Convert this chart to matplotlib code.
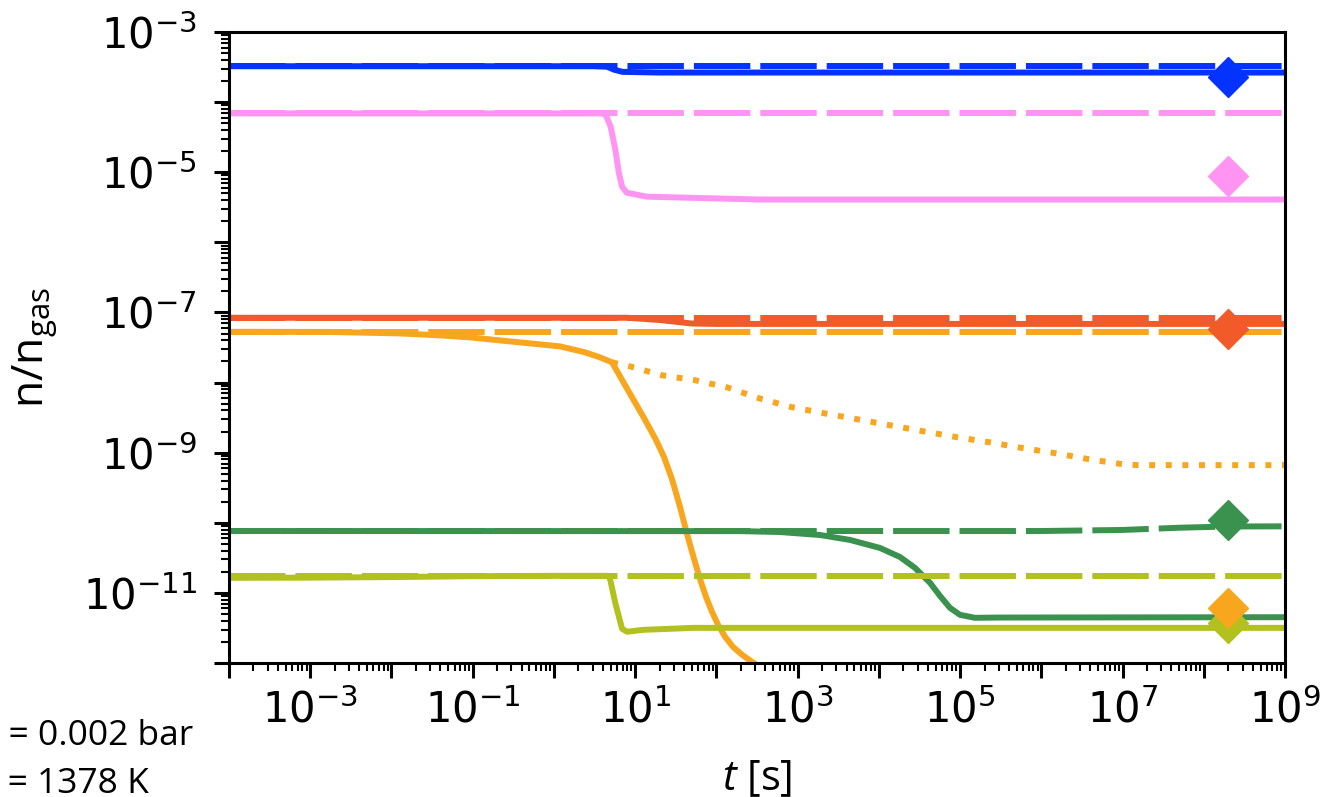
import math
import matplotlib
matplotlib.use("Agg")
import matplotlib.pyplot as plt
from matplotlib.ticker import LogLocator, FuncFormatter, NullFormatter

plt.rcParams["font.family"] = ["Open Sans", "DejaVu Sans"]
plt.rcParams["mathtext.fontset"] = "custom"
plt.rcParams["mathtext.rm"] = "DejaVu Sans"
plt.rcParams["mathtext.sf"] = "DejaVu Sans"
plt.rcParams["mathtext.bf"] = "DejaVu Sans:bold"
plt.rcParams["mathtext.it"] = "Open Sans:italic"

# ---- data: time [s] and abundance n/n_gas ----
t_span = [1e-4, 1e9]

blue_dashed = [3.25e-4, 3.25e-4]
t_blue = [1e-4, 3.0, 4.5, 5.5, 7.0, 20, 1e9]
blue_solid = [3.25e-4, 3.25e-4, 3.2e-4, 2.9e-4, 2.7e-4, 2.64e-4, 2.64e-4]

pink_dashed = [6.9e-5, 6.9e-5]
t_pink = [1e-4, 4.0, 4.4, 5.0, 5.7, 6.3, 6.9, 7.9, 13.9, 340, 1e9]
pink_solid = [6.9e-5, 6.9e-5, 6.37e-5, 4.44e-5, 2.09e-5, 9.8e-6, 6.22e-6,
              5.1e-6, 4.48e-6, 4.08e-6, 4.08e-6]

red_dashed = [8.4e-8, 8.4e-8]
t_red = [1e-4, 8, 20, 50, 100, 1e9]
red_solid = [8.4e-8, 8.4e-8, 7.8e-8, 6.95e-8, 6.86e-8, 6.86e-8]

orange_dashed = [5.3e-8, 5.3e-8]
t_orange = [1e-4, 1.75e-3, 0.0127, 0.0396, 0.0927, 0.217, 0.508, 1.19, 2.41,
            3.69, 5.19, 8.17, 12.9, 18.1, 22.7, 28.4, 35.7, 43.5, 53.1, 62.8,
            74.5, 88.3, 105, 128, 160, 207, 274, 397]
orange_solid = [5.3e-8, 5.27e-8, 5.02e-8, 4.71e-8, 4.41e-8, 3.99e-8, 3.62e-8,
                3.28e-8, 2.70e-8, 2.29e-8, 1.94e-8, 7.76e-9, 3.10e-9,
                1.51e-9, 8.63e-10, 4.20e-10, 1.68e-10, 6.92e-11, 3.05e-11,
                1.58e-11, 8.77e-12, 5.36e-12, 3.50e-12, 2.36e-12, 1.70e-12,
                1.31e-12, 1.04e-12, 7.76e-13]
t_orange_dot = [5.19, 8.65, 21.4, 54.6, 135, 335, 853, 2.11e3, 5.38e3,
                1.37e4, 3.5e4, 9.16e4, 2.27e5, 5.96e5, 1.48e6, 3.86e6,
                9.84e6, 1.55e7, 1e9]
orange_dotted = [1.94e-8, 1.70e-8, 1.27e-8, 1.08e-8, 8.55e-9, 5.97e-9,
                 4.45e-9, 3.65e-9, 3.0e-9, 2.46e-9, 2.02e-9, 1.66e-9,
                 1.41e-9, 1.16e-9, 9.84e-10, 8.07e-10, 6.86e-10, 6.64e-10,
                 6.64e-10]

t_green_d = [1e-4, 1e6, 1e7, 5e7, 2e8, 1e9]
green_dashed = [7.63e-11, 7.63e-11, 7.9e-11, 8.5e-11, 8.85e-11, 8.9e-11]
t_green = [1e-4, 200, 607, 1.89e3, 4.42e3, 1.03e4, 1.82e4, 2.79e4, 4.27e4,
           5.66e4, 7.52e4, 9.98e4, 1.53e5, 3.1e5, 1e9]
green_solid = [7.63e-11, 7.6e-11, 7.38e-11, 6.69e-11, 5.69e-11, 4.38e-11,
               3.25e-11, 2.27e-11, 1.39e-11, 9.06e-12, 6.11e-12, 4.86e-12,
               4.41e-12, 4.45e-12, 4.5e-12]

yg_dashed = [1.75e-11, 1.75e-11]
t_yg = [1e-4, 1e-3, 1e-2, 0.1, 1.0, 4.6, 4.9, 5.65, 6.9, 7.94, 12.5, 51.5, 1e9]
yg_solid = [1.64e-11, 1.65e-11, 1.68e-11, 1.73e-11, 1.75e-11, 1.75e-11,
            1.6e-11, 7.45e-12, 3.08e-12, 2.79e-12, 2.97e-12, 3.17e-12, 3.17e-12]

# reference (equilibrium) values shown as diamonds
t_marker = 2e8
marker_values = {"blue": 2.31e-4, "pink": 8.7e-6, "red": 5.9e-8,
                 "green": 1.1e-10, "yg": 3.77e-12, "orange": 6.18e-12}

colors = {"blue": "#0433ff", "pink": "#ff94f2", "red": "#f15a29",
          "orange": "#f9a61f", "green": "#3b924f", "yg": "#b2c11d"}

cond_symbols = ["P", "T"]
cond_values = ["0.002 bar", "1378 K"]

LW = 4.3
DASH = (9.45, 1.67)
DOT = (1.0, 1.78)

W, H = 1322, 797
fig = plt.figure(figsize=(W / 100, H / 100), dpi=100)
ax = fig.add_axes([229 / W, 1 - 663 / H, (1285 - 229) / W, (663 - 32) / H])


def dashed(t, y, c):
    ax.plot(t, y, color=c, lw=LW, dashes=DASH, solid_capstyle="butt")


def solid(t, y, c):
    ax.plot(t, y, color=c, lw=LW, solid_capstyle="butt", solid_joinstyle="round")


dashed(t_span, blue_dashed, colors["blue"])
solid(t_blue, blue_solid, colors["blue"])
dashed(t_span, pink_dashed, colors["pink"])
solid(t_pink, pink_solid, colors["pink"])
dashed(t_span, red_dashed, colors["red"])
solid(t_red, red_solid, colors["red"])
dashed(t_span, orange_dashed, colors["orange"])
solid(t_orange, orange_solid, colors["orange"])
ax.plot(t_orange_dot, orange_dotted, color=colors["orange"], lw=LW, dashes=DOT)
dashed(t_green_d, green_dashed, colors["green"])
solid(t_green, green_solid, colors["green"])
dashed(t_span, yg_dashed, colors["yg"])
solid(t_yg, yg_solid, colors["yg"])

for key in ["blue", "pink", "red", "green", "yg", "orange"]:
    ax.plot([t_marker], [marker_values[key]], marker="D", ms=20, mew=1,
            color=colors[key], mec=colors[key], zorder=5)

ax.set_xscale("log")
ax.set_yscale("log")
ax.set_xlim(1e-4, 1e9)
ax.set_ylim(1e-12, 1e-3)


def odd_decade(v, pos):
    e = int(round(math.log10(v)))
    return r"$\mathdefault{10^{%d}}$" % e if e % 2 else ""


for axis in (ax.xaxis, ax.yaxis):
    axis.set_major_locator(LogLocator(base=10, numticks=30))
    axis.set_minor_locator(LogLocator(base=10, subs=[2, 3, 4, 5, 6, 7, 8, 9], numticks=300))
    axis.set_major_formatter(FuncFormatter(odd_decade))
    axis.set_minor_formatter(NullFormatter())

ax.tick_params(which="major", length=11, width=2.2, labelsize=30,
               labelfontfamily="DejaVu Sans")
ax.tick_params(which="minor", length=6, width=1.5)
ax.tick_params(axis="x", which="major", pad=8)
ax.tick_params(axis="y", which="major", pad=12)
for sp in ax.spines.values():
    sp.set_linewidth(2.2)

ax.set_ylabel(r"n/n$_\mathregular{gas}$", fontsize=32)
ax.yaxis.set_label_coords(-0.161, 0.5)
ax.set_xlabel(r"$t$ [s]", fontsize=30)
ax.xaxis.set_label_coords(0.5, -0.15)

# condition labels: each placed so its "=" sign starts near the left edge
fs_cond = 25.5
renderer = fig.canvas.get_renderer()
probe_eq = fig.text(0, 0, "=", fontsize=fs_cond)
eq_w = probe_eq.get_window_extent(renderer).width
probe_eq.remove()
for sym, val, base_y in zip(cond_symbols, cond_values, [745, 793]):
    probe = fig.text(0, 0, f"{sym} =", fontsize=fs_cond)
    prefix_px = probe.get_window_extent(renderer).width - eq_w
    probe.remove()
    fig.text((8 - prefix_px) / W, 1 - base_y / H, f"{sym} = {val}",
             ha="left", va="baseline", fontsize=fs_cond)

fig.savefig("out.png", dpi=100)
